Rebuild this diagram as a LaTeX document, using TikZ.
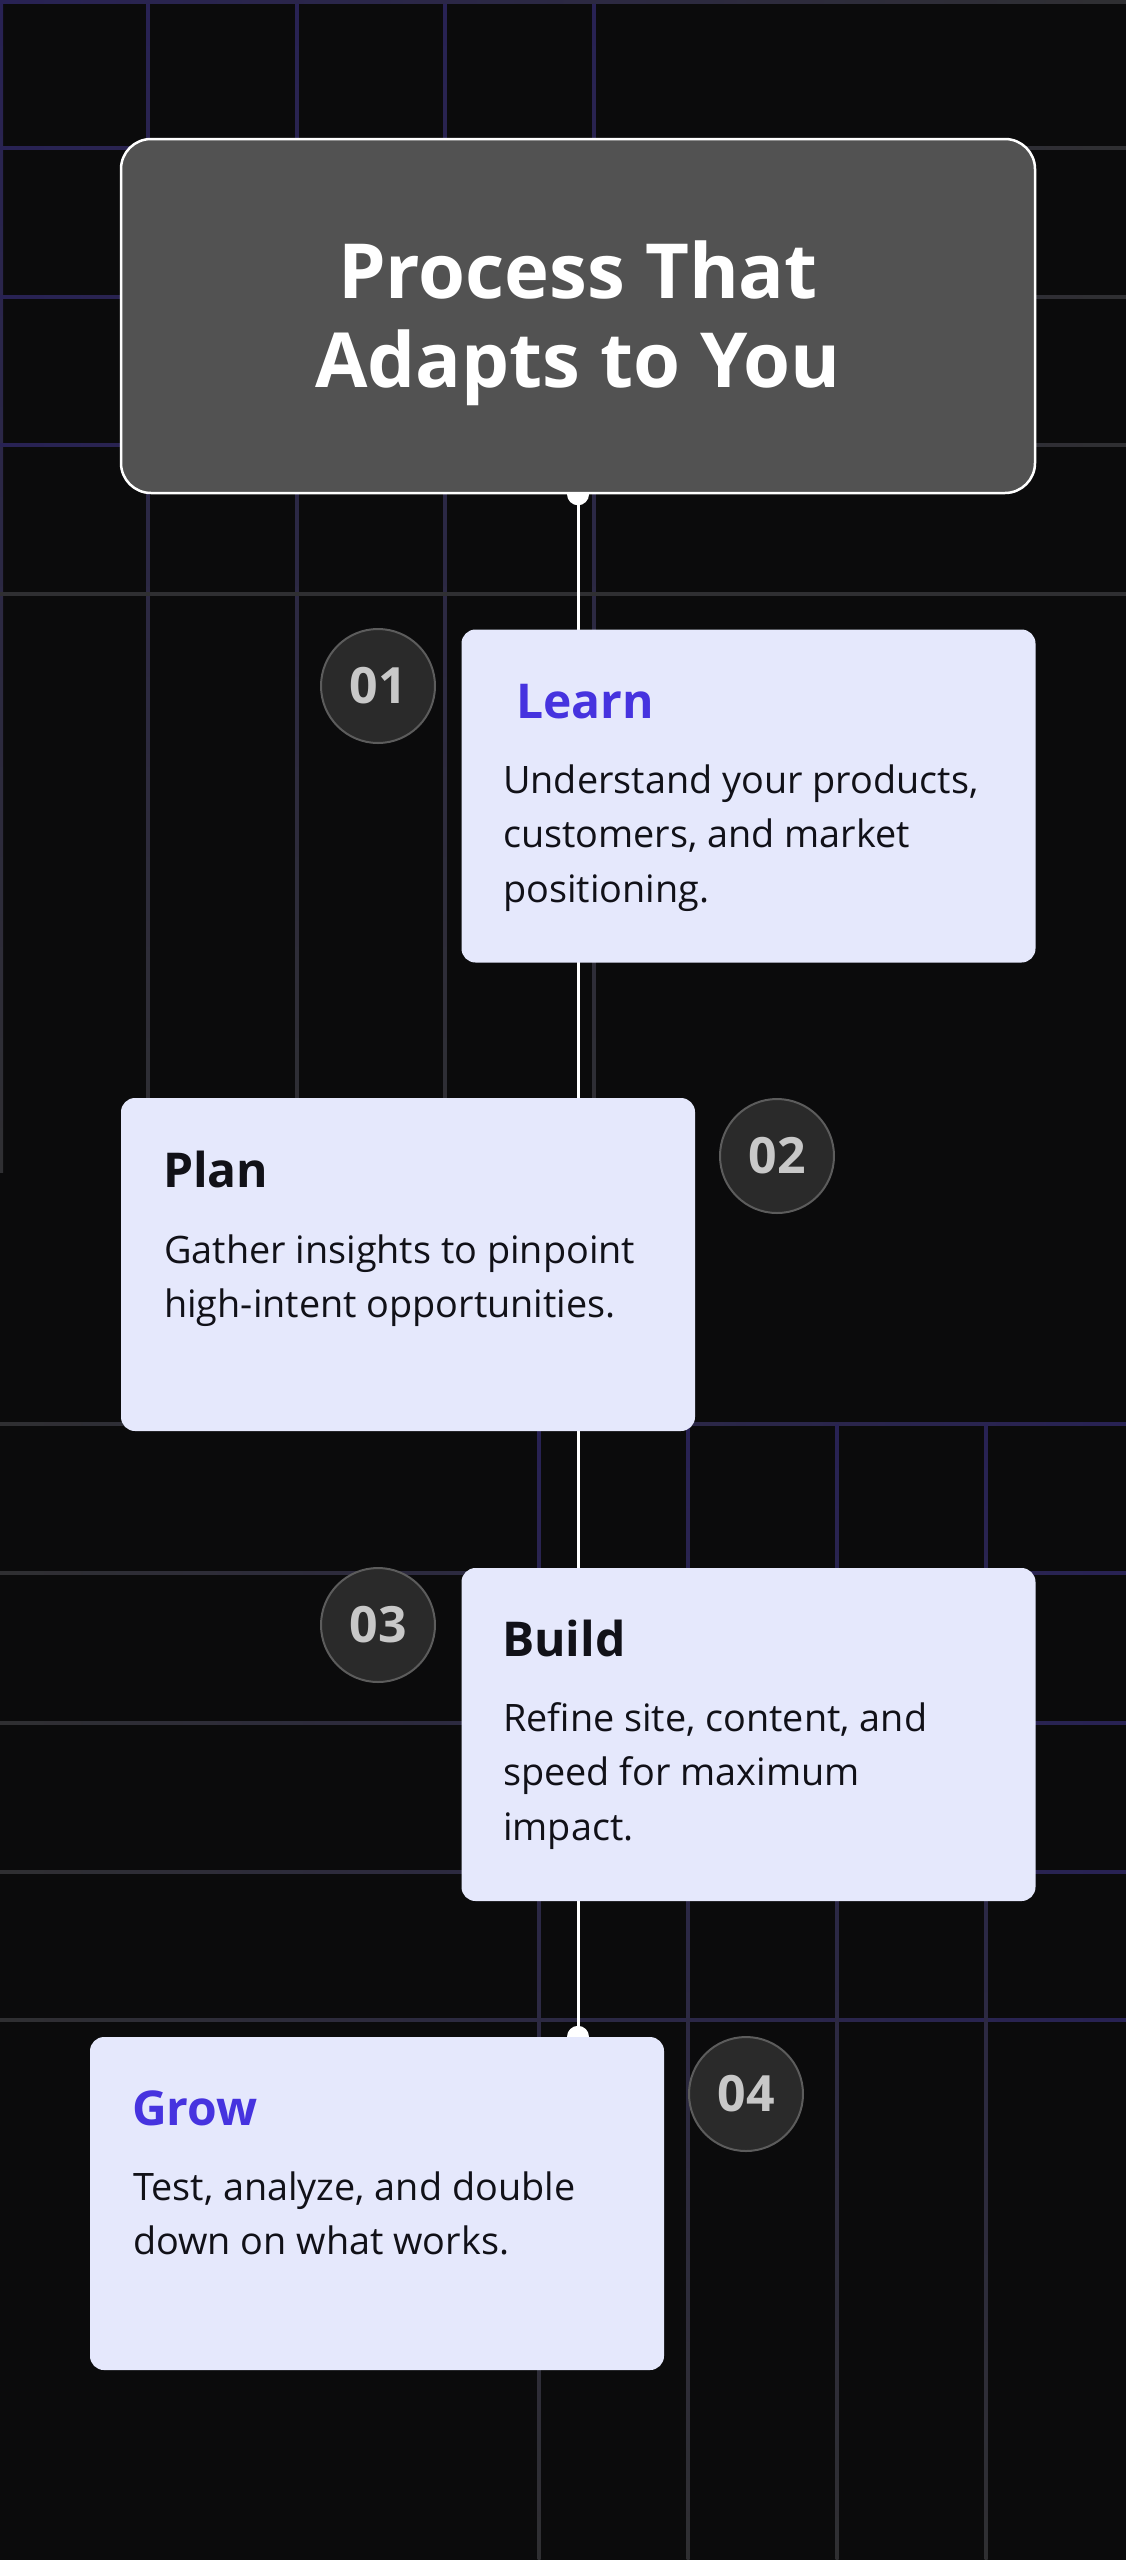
\documentclass[tikz,border=0pt]{standalone}
\usepackage{fontspec}
\setmainfont{Open Sans}
\definecolor{bgcol}{HTML}{0B0B0C}
\definecolor{gridP}{HTML}{282254}
\definecolor{gridG}{HTML}{2F2F32}
\definecolor{titlefill}{HTML}{525252}
\definecolor{cardfill}{HTML}{E5E8FC}
\definecolor{bluetxt}{HTML}{4633DF}
\definecolor{bodytxt}{HTML}{111118}
\definecolor{circfill}{HTML}{2A2A2A}
\definecolor{circline}{HTML}{5C5C5C}
\definecolor{numtxt}{HTML}{C8C8C8}
\pgfdeclarelayer{back}
\pgfdeclarelayer{bg}
\pgfsetlayers{back,bg,main}
\tikzset{
  titlebox/.style={draw=white, line width=2.5pt, fill=titlefill, rounded corners=30pt,
    minimum width=914pt, minimum height=354pt, inner sep=0},
  titletext/.style={text=white, font=\fontsize{76}{89}\selectfont\bfseries, inner sep=0},
  card/.style={fill=cardfill, rounded corners=14pt, minimum width=574pt,
    minimum height=333pt, inner sep=0},
  numcirc/.style={circle, fill=circfill, draw=circline, line width=2pt, minimum size=114pt,
    inner sep=0, text=numtxt, font=\fontsize{50}{50}\selectfont\bfseries},
  cardtitle/.style={font=\fontsize{48}{48}\selectfont\bfseries, inner sep=0, anchor=base west},
  bodytext/.style={font=\fontsize{37.8}{54.5}\selectfont, text=bodytxt, inner sep=0, anchor=base west},
  conn/.style={draw=white, line width=3pt},
  dot/.style={fill=white}
}
\begin{document}
\begin{tikzpicture}[x=1pt, y=-1pt]
\useasboundingbox (0,0) rectangle (1126,2560);
\begin{pgfonlayer}{back}
  \fill[bgcol] (0,0) rectangle (1126,2560);
  % upper grid
  \foreach \x in {1.5,148,297,445,594}
    \shade[top color=gridP, bottom color=gridG] (\x-1.5,0) rectangle (\x+1.5,1172);
  \foreach \y/\c in {1.5/gridP,148/gridP,297/gridP,445/gridP,594/gridG}
    \shade[left color=\c, right color=gridG] (0,\y-1.5) rectangle (1126,\y+1.5);
  % lower grid
  \foreach \y in {1424,1573,1723,1872,2020}
    \shade[left color=gridG, right color=gridP] (0,\y-1.5) rectangle (1126,\y+1.5);
  \foreach \x in {539,688,837,986}
    \shade[top color=gridP, bottom color=gridG] (\x-1.5,1424) rectangle (\x+1.5,2560);
\end{pgfonlayer}

% title
\node[titlebox] (title) at (578,316) {};
\node[titletext, anchor=base] (titleA) at (578,298) {Process That};
\node[titletext, anchor=base] (titleB) at (578,387) {Adapts to You};

% cards
\node[card] (learn) at (748.5,796) {};
\node[card] (plan) at (408,1264.5) {};
\node[card] (build) at (748.5,1734.5) {};
\node[card] (grow) at (377,2203.5) {};

% number circles
\node[numcirc] (n1) at (378,686) {01};
\node[numcirc] (n2) at (777,1156) {02};
\node[numcirc] (n3) at (378,1625) {03};
\node[numcirc] (n4) at (746,2094) {04};

% card texts
\node[cardtitle, text=bluetxt] (learnT) at (516,718) {Learn};
\node[bodytext] (learnB) at (503,793) {\parbox[t]{525pt}{Understand your products,\\customers, and market\\positioning.}};

\node[cardtitle, text=bodytxt] (planT) at (163,1187) {Plan};
\node[bodytext] (planB) at (164,1263) {\parbox[t]{525pt}{Gather insights to pinpoint\\high-intent opportunities.}};

\node[cardtitle, text=bodytxt] (buildT) at (502,1656) {Build};
\node[bodytext] (buildB) at (503,1731) {\parbox[t]{525pt}{Refine site, content, and\\speed for maximum\\impact.}};

\node[cardtitle, text=bluetxt] (growT) at (132,2125) {Grow};
\node[bodytext] (growB) at (133,2200) {\parbox[t]{525pt}{Test, analyze, and double\\down on what works.}};

% connector
\begin{pgfonlayer}{bg}
  \coordinate (lineEnd) at (title.south |- grow.north);
  \draw[conn] (title.south) -- (lineEnd);
  \fill[dot] (title.south) circle (11pt);
  \fill[dot] (lineEnd) circle (11pt);
\end{pgfonlayer}
\end{tikzpicture}
\end{document}
